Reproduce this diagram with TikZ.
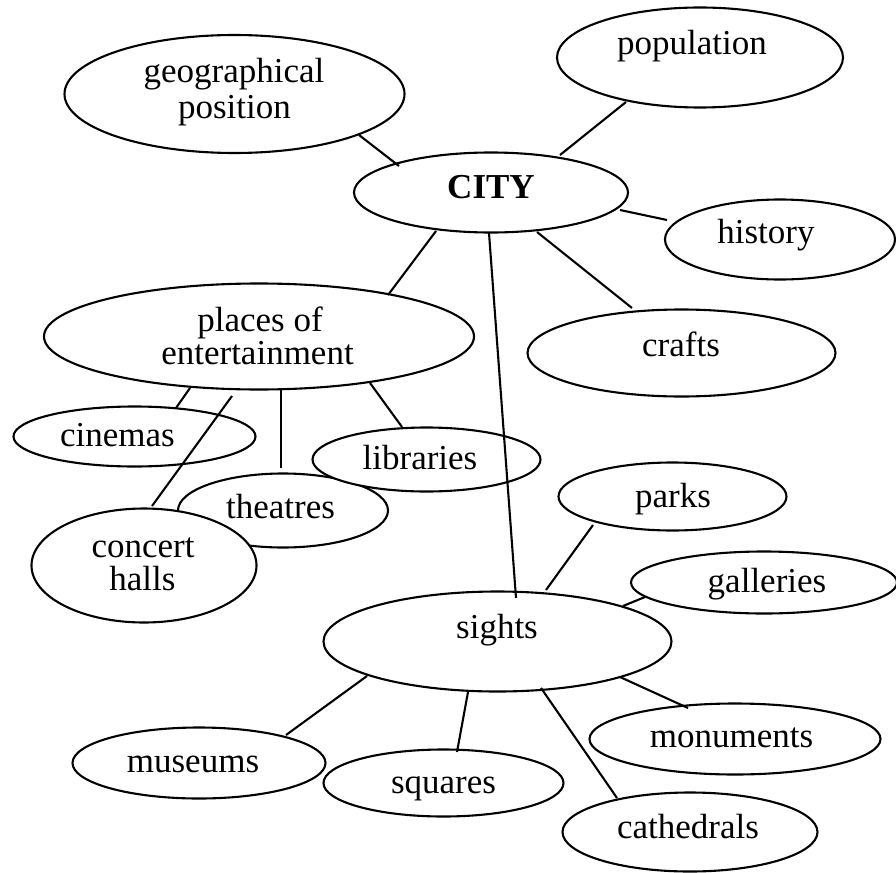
\documentclass[tikz,border=0pt]{standalone}
\usepackage{fontspec}
\setmainfont{Liberation Serif}
\usetikzlibrary{shapes.geometric}
\tikzset{
  oval/.style={ellipse, draw=black, fill=white, line width=2.1pt, inner sep=0pt},
  lbl/.style={anchor=base, inner sep=0pt, font=\fontsize{35}{40}\selectfont},
  conn/.style={line width=2.1pt, line cap=butt}
}
\newcommand{\ov}[5]{\node[oval, minimum width=#4*2pt, minimum height=#5*2pt] (#1) at (#2,#3) {};}
\begin{document}
\begin{tikzpicture}[x=1pt,y=-1pt]
\useasboundingbox (0,0) rectangle (896,872);
% ellipses
\ov{geo}{234.5}{94}{170}{59}
\ov{pop}{700}{57.5}{143}{50}
\ov{city}{491}{192.5}{137}{40}
\ov{hist}{780}{239.5}{115}{40}
\ov{places}{259}{336.5}{215}{53}
\ov{crafts}{681.5}{353}{154}{43.5}
\ov{cinemas}{134.5}{436.5}{121}{30}
\ov{theatres}{283}{510.5}{105}{37}
\ov{libraries}{426.5}{459.5}{114}{32}
\ov{concert}{144}{565.5}{112.5}{57}
\ov{parks}{672.5}{496.5}{114}{34}
\ov{galleries}{764}{582.5}{133}{31}
\ov{sights}{497.5}{641.5}{174}{50}
\ov{monuments}{735}{739}{145.5}{35.5}
\ov{museums}{199}{763}{126.5}{35.5}
\ov{squares}{443.5}{783}{120}{33.5}
\ov{cathedrals}{690}{832}{127.5}{39.5}
% texts
\node[lbl] (geo-t1) at (234,83) {geographical};
\node[lbl] (geo-t2) at (234.5,118) {position};
\node[lbl] (pop-t) at (692,55) {population};
\node[lbl, font=\fontsize{35}{40}\selectfont\bfseries] (city-t) at (491,198) {CITY};
\node[lbl] (hist-t) at (766,243) {history};
\node[lbl] (places-t1) at (260,331) {places of};
\node[lbl] (places-t2) at (257.5,364) {entertainment};
\node[lbl] (crafts-t) at (681,356) {crafts};
\node[lbl] (cinemas-t) at (117.5,446) {cinemas};
\node[lbl] (libraries-t) at (420,469) {libraries};
\node[lbl] (theatres-t) at (280.5,518) {theatres};
\node[lbl] (concert-t1) at (143,557) {concert};
\node[lbl] (concert-t2) at (142.5,590) {halls};
\node[lbl] (parks-t) at (673,507) {parks};
\node[lbl] (galleries-t) at (767,592) {galleries};
\node[lbl] (sights-t) at (497,638) {sights};
\node[lbl] (monuments-t) at (731.5,747) {monuments};
\node[lbl] (museums-t) at (193,772) {museums};
\node[lbl] (squares-t) at (443.5,793) {squares};
\node[lbl] (cathedrals-t) at (688,838) {cathedrals};
% connector end points
\coordinate (a1) at (359,135);   \coordinate (b1) at (399,166);
\coordinate (a2) at (626,102);   \coordinate (b2) at (560,155);
\coordinate (a3) at (667,220);   \coordinate (b3) at (620,210);
\coordinate (a4) at (436,231);   \coordinate (b4) at (388,295);
\coordinate (a5) at (537,232);   \coordinate (b5) at (632,308);
\coordinate (a6) at (489,233);   \coordinate (b6) at (516,598);
\coordinate (a7) at (190,388);   \coordinate (b7) at (176,408);
\coordinate (a8) at (232,396);   \coordinate (b8) at (152,506);
\coordinate (a9) at (281,390);   \coordinate (b9) at (281,468);
\coordinate (a10) at (370,383);  \coordinate (b10) at (402,427);
\coordinate (a11) at (593,525);  \coordinate (b11) at (546,590);
\coordinate (a12) at (645,597);  \coordinate (b12) at (623,606);
\coordinate (a13) at (367,676);  \coordinate (b13) at (286,735);
\coordinate (a14) at (468,692);  \coordinate (b14) at (457,752);
\coordinate (a15) at (541,688);  \coordinate (b15) at (617,798);
\coordinate (a16) at (620,677);  \coordinate (b16) at (688,708);
\foreach \i in {1,...,16} { \draw[conn] (a\i) -- (b\i); }
\end{tikzpicture}
\end{document}
